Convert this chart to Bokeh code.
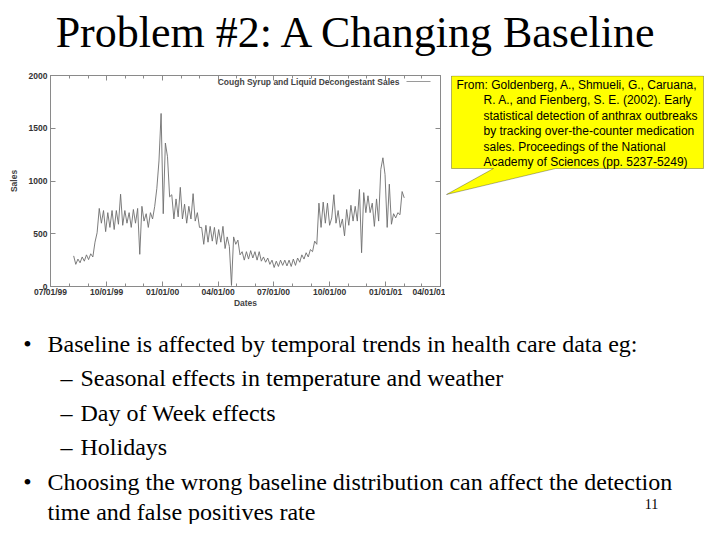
import pandas as pd
from bokeh.plotting import figure
from bokeh.layouts import column, row
from bokeh.models import (Range1d, FixedTicker, DatetimeAxis, LinearAxis,
                          DatetimeTickFormatter, CustomJSTickFormatter, Label,
                          PolyAnnotation, BoxAnnotation, ColumnDataSource)
from bokeh.embed import file_html
from bokeh.resources import INLINE

# ---------------- data (twice-weekly samples) ----------------
start_date = "1999-08-08"
sales = [
    290, 210, 260, 225, 280, 240, 300, 255, 310, 280,
    420, 510, 740, 600, 720, 520, 700, 560, 720, 540,
    720, 590, 875, 580, 720, 600, 700, 560, 730, 600,
    740, 305, 760, 620, 690, 560, 700, 640, 760, 930,
    1190, 1640, 690, 1360, 1230, 850, 870, 640, 830, 660,
    940, 640, 780, 600, 760, 640, 880, 620, 700, 560,
    560, 400, 580, 420, 570, 430, 560, 400, 540, 420,
    570, 360, 470, 380, 10, 470, 400, 440, 300, 330,
    250, 330, 260, 340, 270, 330, 250, 330, 240, 280,
    230, 270, 210, 250, 180, 240, 190, 250, 200, 250,
    195, 250, 190, 260, 200, 270, 230, 300, 260, 320,
    280, 350, 330, 430, 400, 790, 560, 800, 600, 790,
    580, 650, 870, 600, 720, 560, 640, 480, 730, 580,
    770, 620, 760, 620, 920, 320, 890, 700, 860, 700,
    790, 570, 830, 620, 1110, 1220, 1060, 560, 970, 590,
    690, 650, 700, 680, 900, 840,
]
dates = pd.date_range(start_date, periods=len(sales), freq="84h")

x_tick_dates = ["1999-07-01", "1999-10-01", "2000-01-01", "2000-04-01",
                "2000-07-01", "2000-10-01", "2001-01-01", "2001-04-01"]
x_minor_dates = pd.date_range("1999-07-01", "2001-04-01", freq="MS")
y_ticks = [0, 500, 1000, 1500, 2000]

legend_text = "Cough Syrup and Liquid Decongestant Sales"
title_text = "Problem #2: A Changing Baseline"
callout_lines = [
    "From: Goldenberg, A., Shmueli, G., Caruana,",
    "R. A., and Fienberg, S. E. (2002).  Early",
    "statistical detection of anthrax outbreaks",
    "by tracking over-the-counter medication",
    "sales.  Proceedings of the National",
    "Academy of Sciences (pp. 5237-5249)",
]
body_lines = [
    "Baseline is affected by temporal trends in health care data eg:",
    "Seasonal effects in temperature and weather",
    "Day of Week effects",
    "Holidays",
    "Choosing the wrong baseline distribution can affect the detection",
    "time and false positives rate",
]
body_markers = ["\u2022", "\u2013", "\u2013", "\u2013", "\u2022", ""]
page_number = "11"

# ---------------- layout geometry (canvas px) ----------------
W, H = 704, 524
TH = 62                      # title strip height
CL, CT, CFW, CFH, CR, CB = 50, 13, 390, 211, 5, 34
CW = CL + CFW + CR           # chart figure width
CH = CT + CFH + CB           # chart figure height
BH = H - TH - CH             # body strip height
FRAME_TOP, FRAME_BOTTOM = TH + CT, TH + CT + CFH


def ms(d):
    return pd.Timestamp(d).value / 1e6


def blank_fig(w, h, x0, y_top, y_bottom, border_top=0, border_bottom=0):
    """A plain panel whose data units are canvas pixels (y downward)."""
    f = figure(width=w, height=h, x_range=Range1d(x0, x0 + w),
               y_range=Range1d(y_bottom, y_top), output_backend="svg",
               toolbar_location=None, x_axis_location=None, y_axis_location=None,
               min_border=0)
    f.min_border_left = f.min_border_right = 0
    f.min_border_top = border_top
    f.min_border_bottom = border_bottom
    f.outline_line_color = None
    f.xgrid.visible = False
    f.ygrid.visible = False
    f.background_fill_color = "white"
    f.border_fill_color = "white"
    return f


# ---------------- title strip ----------------
title_fig = blank_fig(W, TH, 0, 0, TH)
title_fig.add_layout(Label(x=357, y=32, text=title_text, text_font="Liberation Serif",
                           text_font_size="44px", text_color="black",
                           text_align="center", text_baseline="middle"))

# ---------------- chart ----------------
p = figure(width=CW, height=CH, x_axis_type="datetime",
           output_backend="svg", toolbar_location=None,
           min_border_left=CL, min_border_right=CR,
           min_border_top=CT, min_border_bottom=CB,
           x_range=Range1d(ms("1999-07-01"), ms("2001-04-01")),
           y_range=Range1d(0, 2000))
p.background_fill_color = "white"
p.border_fill_color = "white"
p.outline_line_color = "#8a8a8a"
p.xgrid.visible = False
p.ygrid.visible = False

src = ColumnDataSource(dict(date=dates, sales=sales))
p.line("date", "sales", source=src, line_color="#6e6e6e", line_width=0.9)

xticker = FixedTicker(ticks=[ms(d) for d in x_tick_dates],
                      minor_ticks=[ms(d) for d in x_minor_dates])
yticker = FixedTicker(ticks=y_ticks, minor_ticks=[])
fmt = "%m/%d/%y"
xfmt = DatetimeTickFormatter(microseconds=fmt, milliseconds=fmt, seconds=fmt,
                             minsec=fmt, minutes=fmt, hourmin=fmt, hours=fmt,
                             days=fmt, months=fmt, years=fmt)
blank = CustomJSTickFormatter(code="return ''")


def style_axis(ax):
    ax.axis_line_color = "#8a8a8a"
    ax.major_tick_line_color = "#8a8a8a"
    ax.minor_tick_line_color = "#8a8a8a"
    ax.major_tick_in = 5
    ax.major_tick_out = 0
    ax.minor_tick_in = 3
    ax.minor_tick_out = 0
    ax.major_label_text_font = "Liberation Sans"
    ax.major_label_text_font_size = "8.5px"
    ax.major_label_text_font_style = "bold"
    ax.major_label_text_color = "#333333"
    ax.axis_label_text_font = "Liberation Sans"
    ax.axis_label_text_font_size = "8.5px"
    ax.axis_label_text_font_style = "bold"
    ax.axis_label_text_color = "#444444"


xa = p.xaxis[0]
xa.ticker = xticker
xa.formatter = xfmt
xa.axis_label = "Dates"
style_axis(xa)
xa.major_label_standoff = 0
xa.axis_label_standoff = -2

ya = p.yaxis[0]
ya.ticker = yticker
ya.axis_label = "Sales"
style_axis(ya)
ya.major_label_standoff = 3
ya.axis_label_standoff = 7

for ax, side in ((DatetimeAxis(ticker=xticker, formatter=blank), "above"),
                 (LinearAxis(ticker=yticker, formatter=blank), "right")):
    style_axis(ax)
    ax.major_label_text_font_size = "1px"
    ax.major_label_standoff = 0
    p.add_layout(ax, side)

# legend (gnuplot style: text then sample), frame-relative pixels
PX0, PY0 = CL, FRAME_BOTTOM
p.add_layout(Label(x=399 - PX0, y=PY0 - 81, x_units="screen", y_units="screen",
                   text=legend_text, text_font="Liberation Sans", text_font_size="8.5px",
                   text_font_style="bold", text_color="#444444",
                   text_align="right", text_baseline="middle"))
p.add_layout(BoxAnnotation(left=406 - PX0, right=430 - PX0,
                           bottom=PY0 - 81.5, top=PY0 - 80.5,
                           left_units="screen", right_units="screen",
                           top_units="screen", bottom_units="screen",
                           fill_color="#9a9a9a", fill_alpha=1, line_color=None))

# ---------------- callout panel (frame aligned with the chart frame in the row) ----------------
call_fig = blank_fig(W - CW, CH, CW, FRAME_TOP, FRAME_BOTTOM,
                     border_top=CT, border_bottom=CB)
cx = [451, 703, 703, 555, 446, 493, 451]
cy = [75.5, 75.5, 168, 168, 194, 168, 168]
call_fig.add_layout(PolyAnnotation(xs=cx, ys=cy, fill_color="#FFFF00", fill_alpha=1,
                                   line_color="black", line_width=1))
callout_x = [456, 483, 483, 483, 483, 483]
callout_y = [84, 99.5, 115, 130.5, 146, 161.5]
for t, x, y in zip(callout_lines, callout_x, callout_y):
    call_fig.add_layout(Label(x=x, y=y, text=t, text_font="Liberation Sans",
                              text_font_size="12px", text_color="black",
                              text_align="left", text_baseline="middle"))

# ---------------- body text ----------------
body_fig = blank_fig(W, BH, 0, TH + CH, H)
text_x = [47, 80, 80, 80, 47, 47]
text_y = [343, 377, 412, 446, 481, 511]
marker_x = [27, 66, 66, 66, 27, 27]
for t, m, x, mx, y in zip(body_lines, body_markers, text_x, marker_x, text_y):
    body_fig.add_layout(Label(x=x, y=y, text=t, text_font="Liberation Serif",
                              text_font_size="24px", text_color="black",
                              text_align="left", text_baseline="middle"))
    if m:
        body_fig.add_layout(Label(x=mx, y=y, text=m, text_font="Liberation Serif",
                                  text_font_size="24px", text_color="black",
                                  text_align="center", text_baseline="middle"))
body_fig.add_layout(Label(x=651, y=503, text=page_number, text_font="Liberation Serif",
                          text_font_size="14px", text_color="black",
                          text_align="center", text_baseline="middle"))

layout = column(title_fig, row(p, call_fig, spacing=0), body_fig, spacing=0)
open("out.html", "w").write(file_html(layout, INLINE))
